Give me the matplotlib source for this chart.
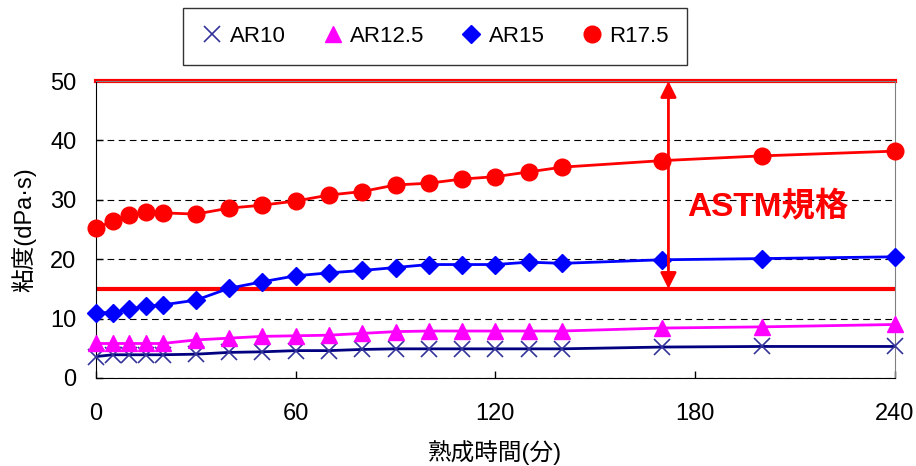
import matplotlib
matplotlib.use("Agg")
import matplotlib.pyplot as plt

plt.rcParams['font.family'] = ['Liberation Sans', 'Noto Sans CJK JP', 'DejaVu Sans']

# 熟成時間(分)
minutes = [0, 5, 10, 15, 20, 30, 40, 50, 60, 70, 80, 90, 100, 110, 120, 130, 140, 170, 200, 240]

# 粘度(dPa·s)
ar10 = [3.6, 3.9, 3.9, 3.9, 3.9, 4.0, 4.3, 4.4, 4.6, 4.6, 4.8, 4.9, 4.9, 4.9, 4.9, 4.9, 4.9, 5.2, 5.3, 5.3]
ar12_5 = [5.8, 5.8, 5.8, 5.8, 5.8, 6.4, 6.7, 7.0, 7.1, 7.2, 7.5, 7.8, 7.9, 7.9, 7.9, 7.9, 7.9, 8.4, 8.6, 9.0]
ar15 = [11.0, 11.0, 11.6, 12.1, 12.3, 13.1, 15.1, 16.2, 17.2, 17.7, 18.1, 18.6, 19.1, 19.1, 19.1, 19.5, 19.3, 19.9, 20.1, 20.4]
r17_5 = [25.2, 26.4, 27.4, 27.9, 27.8, 27.6, 28.6, 29.1, 29.8, 30.8, 31.4, 32.5, 32.8, 33.5, 33.9, 34.7, 35.5, 36.6, 37.4, 38.2]

# ASTM規格の範囲
astm_low = 15
astm_high = 50

fig = plt.figure(figsize=(9.16, 4.66), dpi=100)
ax = fig.add_axes([0.1048, 0.189, 0.872, 0.637])

# 線(凡例なし)
ax.plot(minutes, ar10, color='#000080', lw=2, zorder=3)
ax.plot(minutes, ar12_5, color='#FF00FF', lw=2, zorder=3)
ax.plot(minutes, ar15, color='#0000FF', lw=2, zorder=3)
ax.plot(minutes, r17_5, color='#FF0000', lw=2, zorder=3)

# マーカー
ax.plot(minutes, ar10, ls='none', marker='x', ms=12, mew=1.2, color='#333399',
        label='AR10', zorder=4, clip_on=False)
ax.plot(minutes, ar12_5, ls='none', marker='^', ms=12, color='#FF00FF',
        label='AR12.5', zorder=4, clip_on=False)
ax.plot(minutes, ar15, ls='none', marker='D', ms=9, color='#0000FF',
        label='AR15', zorder=4, clip_on=False)
ax.plot(minutes, r17_5, ls='none', marker='o', ms=12, color='#FF0000',
        label='R17.5', zorder=4, clip_on=False)

# ASTM規格
ax.axhline(astm_low, color='#FF0000', lw=3, zorder=2)
ax.axhline(astm_high, color='#FF0000', lw=3, zorder=2, clip_on=False)
ax.annotate('', xy=(172, astm_high), xytext=(172, astm_low),
            arrowprops=dict(arrowstyle='<|-|>', color='#FF0000', lw=2,
                            mutation_scale=24, shrinkA=0, shrinkB=0), zorder=5)
ax.text(202, 28.8, 'ASTM規格', color='#FF0000', fontsize=24, fontweight='bold',
        ha='center', va='center')

ax.set_xlim(0, 240)
ax.set_ylim(0, 50)
ax.set_xticks([0, 60, 120, 180, 240])
ax.set_yticks([0, 10, 20, 30, 40, 50])
ax.tick_params(direction='in', length=5, labelsize=17, width=1)
ax.tick_params(axis='x', pad=18)
ax.tick_params(axis='y', pad=14)

ax.grid(axis='y', color='black', ls=(0, (6, 4)), lw=0.8)
ax.set_axisbelow(True)
for side in ['top', 'right']:
    ax.spines[side].set_color('#808080')
ax.spines['left'].set_color('black')
ax.spines['bottom'].set_color('black')

ax.set_xlabel('熟成時間(分)', fontsize=17, labelpad=11)
ax.set_ylabel('粘度(dPa·s)', fontsize=17, labelpad=10)

leg = fig.legend(loc='upper center', bbox_to_anchor=(0.475, 0.982), ncol=4,
                 fontsize=16, frameon=True, fancybox=False, edgecolor='black',
                 handlelength=1.0, handletextpad=0.3, columnspacing=1.6,
                 borderpad=0.8, borderaxespad=0)
leg.get_frame().set_linewidth(1)

fig.savefig('out.png', dpi=100)
